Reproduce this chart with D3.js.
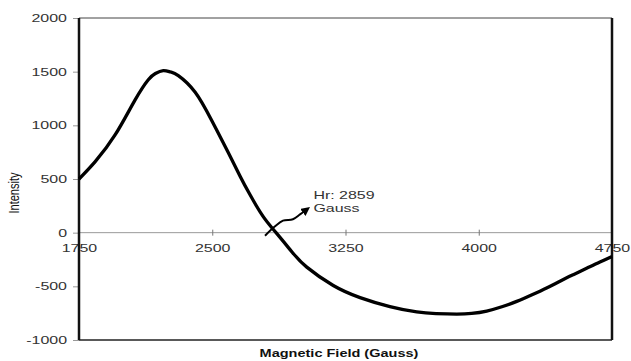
<!DOCTYPE html>
<html>
<head>
<meta charset="utf-8">
<script src="https://cdn.jsdelivr.net/npm/d3@7"></script>
<style>
  body { margin: 0; background: #fff; }
  text { font-family: "Liberation Sans", Arial, sans-serif; }
</style>
</head>
<body>
<svg id="chart" width="631" height="361"></svg>
<script>
// EPR derivative spectrum: intensity versus magnetic field
const fieldGauss = [1750, 1840, 1953, 2065, 2140, 2180, 2224, 2265, 2309, 2403, 2497, 2590, 2656, 2712,
                    2785, 2859, 2950, 3032, 3181, 3332, 3500, 3651, 3760, 3876, 3960, 4045, 4130, 4214,
                    4300, 4382, 4460, 4532, 4610, 4682, 4750];
const intensity  = [500, 660, 910, 1235, 1425, 1483, 1510, 1497, 1463, 1310, 1045, 747, 529, 355,
                    154, 0, -182, -321, -492, -605, -689, -739, -754, -758, -752, -730, -690, -640,
                    -578, -515, -450, -392, -330, -273, -222];

const xTickValues = [1750, 2500, 3250, 4000, 4750];
const yTickValues = [-1000, -500, 0, 500, 1000, 1500, 2000];

// Resonance field annotation and its wavy pointer
const resonanceField = 2859;
const pointerField     = [2797, 2850, 2898, 2954, 2994, 3030];
const pointerIntensity = [-28, 55, 112, 125, 170, 214];

const W = 631, H = 361;
const margin = { top: 18, right: 19, bottom: 21, left: 79 };
const STRETCH = 1.45; // wide glyphs

const svg = d3.select("#chart");
const x = d3.scaleLinear().domain([1750, 4750]).range([margin.left, W - margin.right]);
const y = d3.scaleLinear().domain([-1000, 2000]).range([H - margin.bottom, margin.top]);
const plain = d => String(d); // hyphen-minus for negatives

function widen(sel, factor) {
  sel.each(function () {
    const w = this.getComputedTextLength();
    this.setAttribute("textLength", w * factor);
    this.setAttribute("lengthAdjust", "spacingAndGlyphs");
  });
}

// zero line
svg.append("line")
  .attr("x1", x(1750)).attr("x2", x(4750))
  .attr("y1", y(0)).attr("y2", y(0))
  .attr("stroke", "#999").attr("stroke-width", 1);

// y axis
const yAxis = svg.append("g")
  .attr("transform", `translate(${margin.left},0)`)
  .call(d3.axisLeft(y).tickValues(yTickValues).tickSize(6).tickPadding(6).tickFormat(plain));
yAxis.select(".domain").remove();
yAxis.selectAll(".tick line").attr("stroke", "#999");
yAxis.selectAll(".tick text")
  .attr("fill", "#333").style("font-size", "11px")
  .call(widen, STRETCH);

// x axis drawn on the zero line
const xAxis = svg.append("g")
  .attr("transform", `translate(0,${y(0)})`)
  .call(d3.axisBottom(x).tickValues(xTickValues).tickSize(3).tickPadding(9).tickFormat(plain));
xAxis.select(".domain").remove();
xAxis.selectAll(".tick line").attr("y1", -3).attr("y2", 3).attr("stroke", "#777");
xAxis.selectAll(".tick text")
  .attr("fill", "#333").style("font-size", "11px")
  .call(widen, STRETCH);

// plot frame
const x0 = x(1750), x1 = x(4750), yTop = y(2000), yBot = y(-1000);
svg.append("line").attr("x1", x0).attr("x2", x1).attr("y1", yTop).attr("y2", yTop)
  .attr("stroke", "#444").attr("stroke-width", 1);
svg.append("line").attr("x1", x0).attr("x2", x1).attr("y1", yBot).attr("y2", yBot)
  .attr("stroke", "#222").attr("stroke-width", 1.5);
svg.append("line").attr("x1", x0).attr("x2", x0).attr("y1", yTop).attr("y2", yBot)
  .attr("stroke", "#111").attr("stroke-width", 2.5);
svg.append("line").attr("x1", x1).attr("x2", x1).attr("y1", yTop).attr("y2", yBot)
  .attr("stroke", "#111").attr("stroke-width", 2.5);

// spectrum curve
const points = fieldGauss.map((g, i) => [g, intensity[i]]);
svg.append("path")
  .datum(points)
  .attr("fill", "none")
  .attr("stroke", "#000")
  .attr("stroke-width", 3.3)
  .attr("stroke-linejoin", "round")
  .attr("d", d3.line().x(d => x(d[0])).y(d => y(d[1])).curve(d3.curveNatural));

// arrow pointer
svg.append("defs").append("marker")
  .attr("id", "head")
  .attr("viewBox", "0 0 10 10")
  .attr("refX", 5).attr("refY", 5)
  .attr("markerWidth", 4.5).attr("markerHeight", 4.5)
  .attr("orient", "auto")
  .append("path").attr("d", "M0,0 L10,5 L0,10 Z").attr("fill", "#000");

const pointer = pointerField.map((g, i) => [g, pointerIntensity[i]]);
svg.append("path")
  .datum(pointer)
  .attr("fill", "none")
  .attr("stroke", "#000")
  .attr("stroke-width", 2)
  .attr("marker-end", "url(#head)")
  .attr("d", d3.line().x(d => x(d[0])).y(d => y(d[1])).curve(d3.curveCatmullRom.alpha(0.5)));

// annotation text
const tipX = x(pointerField[pointerField.length - 1]);
const tipY = y(pointerIntensity[pointerIntensity.length - 1]);
const note = svg.append("g");
note.append("text")
  .attr("x", tipX + 7).attr("y", tipY - 11)
  .attr("fill", "#333").style("font-size", "11px")
  .text(`Hr: ${resonanceField}`)
  .call(widen, STRETCH);
note.append("text")
  .attr("x", tipX + 7).attr("y", tipY + 2)
  .attr("fill", "#333").style("font-size", "11px")
  .text("Gauss")
  .call(widen, STRETCH);

// axis titles
svg.append("text")
  .attr("x", 339).attr("y", 357)
  .attr("text-anchor", "middle")
  .attr("fill", "#111")
  .style("font-size", "10px").style("font-weight", "bold")
  .text("Magnetic Field (Gauss)")
  .call(widen, STRETCH);

svg.append("text")
  .attr("transform", `translate(19,193) scale(1.4,1) rotate(-90)`)
  .attr("text-anchor", "middle")
  .attr("fill", "#111")
  .style("font-size", "11px")
  .text("Intensity");
</script>
</body>
</html>
